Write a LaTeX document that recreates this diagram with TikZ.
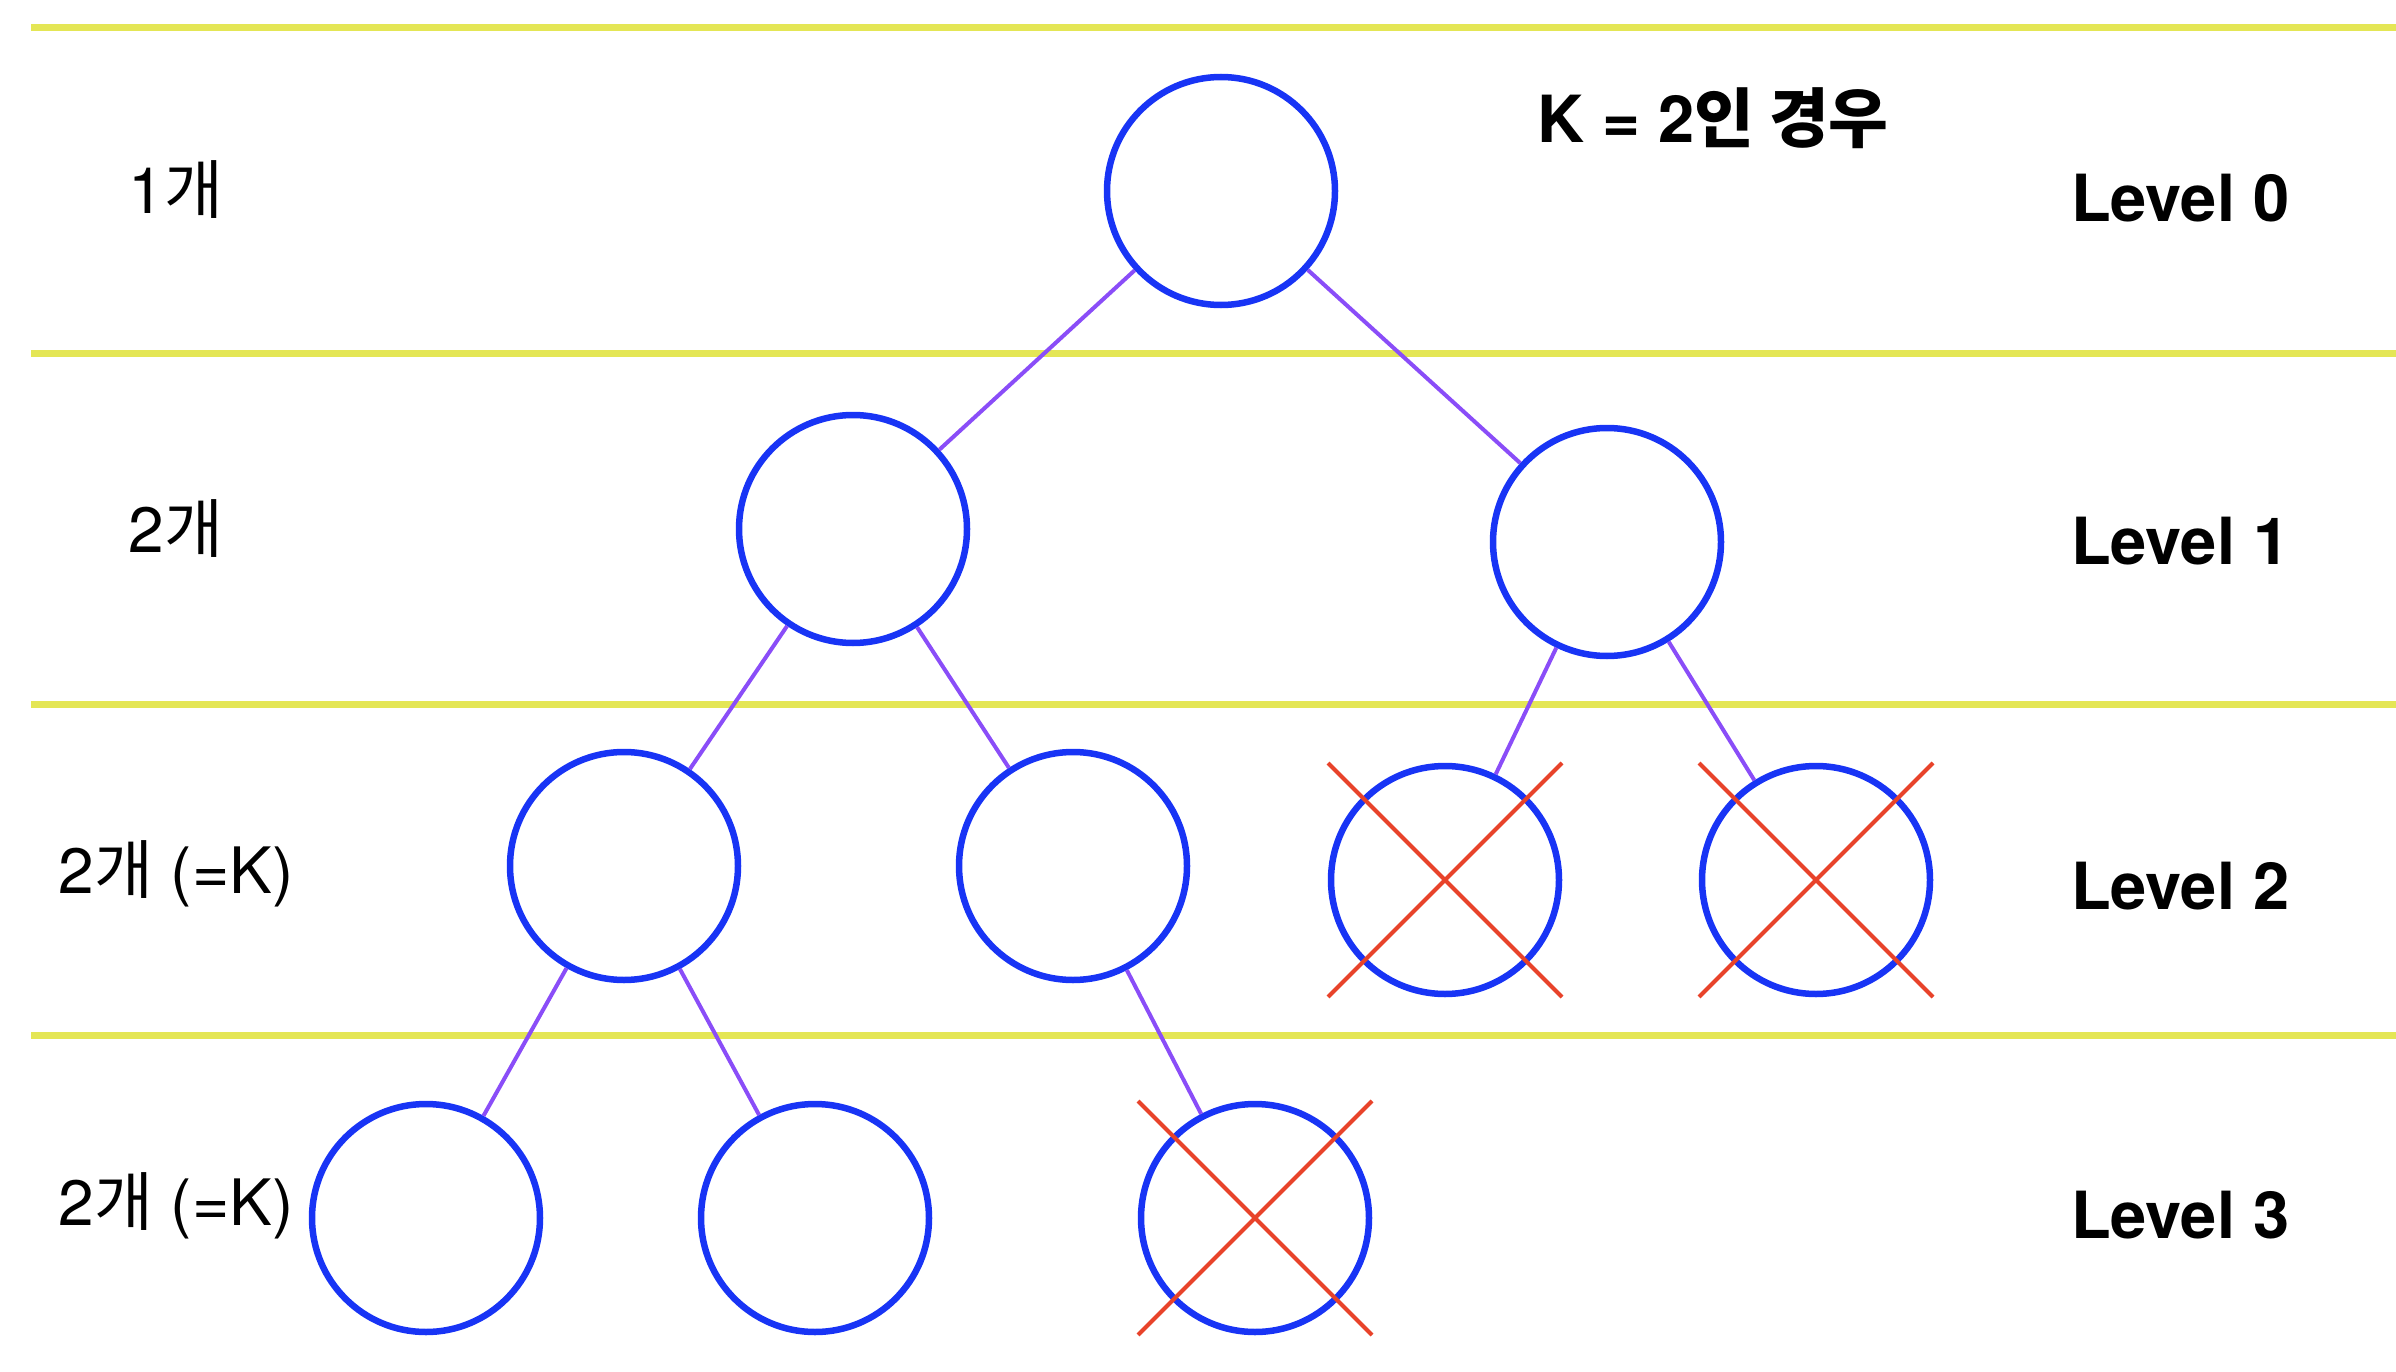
\documentclass[tikz,border=0pt]{standalone}
\usepackage{fontspec}
\setmainfont{TeX Gyre Heros}
\newfontfamily\cjk{Noto Sans CJK KR}
\definecolor{lineyellow}{HTML}{E4E655}
\definecolor{nodeblue}{HTML}{1834F5}
\definecolor{edgepurple}{HTML}{8A4DF8}
\definecolor{crossred}{HTML}{E8432A}
\begin{document}
\begin{tikzpicture}[x=1pt,y=-1pt,
  tnode/.style={circle,draw=nodeblue,line width=6.5pt,minimum size=228pt,inner sep=0pt},
  edge/.style={draw=edgepurple,line width=4pt},
  sep/.style={draw=lineyellow,line width=7pt},
  xmark/.style={draw=crossred,line width=4pt},
  lab/.style={anchor=base,inner sep=0pt,font=\fontsize{64pt}{78pt}\selectfont},
  lvl/.style={anchor=base west,inner sep=0pt,font=\fontsize{65pt}{78pt}\selectfont\bfseries}]
\useasboundingbox (0,0) rectangle (2396,1372);
% separator lines
\coordinate (s1a) at (31,28);   \coordinate (s1b) at (2396,28);
\coordinate (s2a) at (31,353);  \coordinate (s2b) at (2396,353);
\coordinate (s3a) at (31,704);  \coordinate (s3b) at (2396,704);
\coordinate (s4a) at (31,1035); \coordinate (s4b) at (2396,1035);
\draw[sep] (s1a) -- (s1b);
\draw[sep] (s2a) -- (s2b);
\draw[sep] (s3a) -- (s3b);
\draw[sep] (s4a) -- (s4b);
% tree nodes
\node[tnode] (r)   at (1221,191) {};
\node[tnode] (a)   at (853,529) {};
\node[tnode] (b)   at (1607,542) {};
\node[tnode] (aa)  at (624,866) {};
\node[tnode] (ab)  at (1073,866) {};
\node[tnode] (ba)  at (1445,880) {};
\node[tnode] (bb)  at (1816,880) {};
\node[tnode] (aaa) at (426,1218) {};
\node[tnode] (aab) at (815,1218) {};
\node[tnode] (aba) at (1255,1218) {};
% edges
\draw[edge] (r) -- (a);
\draw[edge] (r) -- (b);
\draw[edge] (a) -- (aa);
\draw[edge] (a) -- (ab);
\draw[edge] (b) -- (ba);
\draw[edge] (b) -- (bb);
\draw[edge] (aa) -- (aaa);
\draw[edge] (aa) -- (aab);
\draw[edge] (ab) -- (aba);
% crosses
\foreach \n in {ba,bb,aba}{
  \draw[xmark] ([shift={(-117,-117)}]\n.center) -- ([shift={(117,117)}]\n.center);
  \draw[xmark] ([shift={(-117,117)}]\n.center) -- ([shift={(117,-117)}]\n.center);
}
% left labels
\node[lab] (c0) at (176,214) {1{\cjk 개}};
\node[lab] (c1) at (176,552) {2{\cjk 개}};
\node[lab] (c2) at (176,893) {2{\cjk 개} (=K)};
\node[lab] (c3) at (176,1225) {2{\cjk 개} (=K)};
% right labels
\node[lvl] (l0) at (2071,222) {Level 0};
\node[lvl] (l1) at (2071,564) {Level 1};
\node[lvl] (l2) at (2071,909) {Level 2};
\node[lvl] (l3) at (2071,1238) {Level 3};
% title
\node[lvl] (t) at (1537,143) {K = 2{\cjk 인 경우}};
\end{tikzpicture}
\end{document}
